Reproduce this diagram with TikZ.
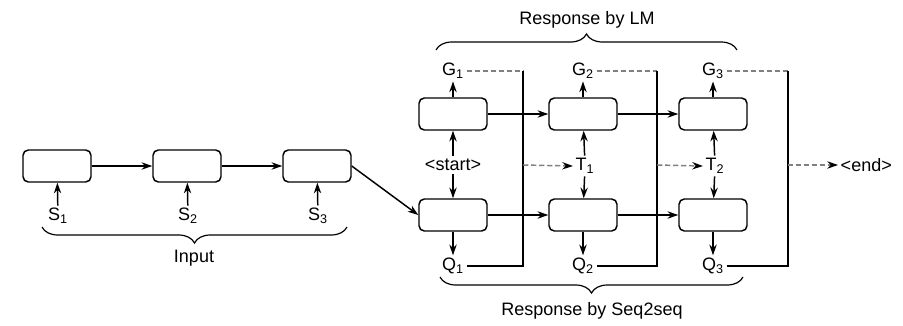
\documentclass[tikz,border=0pt]{standalone}
\usepackage{fontspec}
\setmainfont{Liberation Sans}
\usepackage{tikz}
\usetikzlibrary{arrows.meta,decorations.pathreplacing}

\tikzset{
  cell/.style={draw, line width=1.1pt, rounded corners=4pt, minimum width=51pt, minimum height=24pt},
  tok/.style={inner sep=1.5pt, font=\fontsize{13.5}{15}\selectfont},
  gdash/.style={gray, line width=1.1pt, dash pattern=on 4pt off 2pt},
  brc/.style={decorate, line width=0.9pt, decoration={brace, amplitude=12pt}},
}

\begin{document}
\begin{tikzpicture}[x=0.75pt,y=-0.75pt,line width=1.1pt,>={Stealth[length=8pt,width=5.5pt,black]}]
\useasboundingbox (0,0) rectangle (903,325);

% Input cells
\node[cell] (in1) at (57,166) {};
\node[cell] (in2) at (187,166) {};
\node[cell] (in3) at (317,166) {};
\node[tok] (s1) at (58,216) {S\textsubscript{1}};
\node[tok] (s2) at (188,216) {S\textsubscript{2}};
\node[tok] (s3) at (318,216) {S\textsubscript{3}};
\draw[->] (s1) -- (in1);
\draw[->] (s2) -- (in2);
\draw[->] (s3) -- (in3);
\draw[->] (in1) -- (in2);
\draw[->] (in2) -- (in3);

% LM cells (top) and Seq2seq cells (bottom)
\node[cell] (lm1) at (453,114) {};
\node[cell] (lm2) at (583,114) {};
\node[cell] (lm3) at (713,114) {};
\node[cell] (sq1) at (453,215) {};
\node[cell] (sq2) at (583,215) {};
\node[cell] (sq3) at (713,215) {};
\draw[->] (in3.east) -- (sq1.west);
\draw[->] (lm1) -- (lm2);
\draw[->] (lm2) -- (lm3);
\draw[->] (sq1) -- (sq2);
\draw[->] (sq2) -- (sq3);

% Tokens between the rows
\node[tok] (start) at (453,165) {<start>};
\node[tok] (t1) at (585,166) {T\textsubscript{1}};
\node[tok] (t2) at (715,166) {T\textsubscript{2}};
\node[tok, anchor=west] (endtok) at (838,165) {<end>};
\foreach \i/\t in {1/start,2/t1,3/t2} {
  \draw[->] (\t) -- (lm\i);
  \draw[->] (\t) -- (sq\i);
}

% Outputs
\node[tok] (g1) at (453,71) {G\textsubscript{1}};
\node[tok] (g2) at (583,71) {G\textsubscript{2}};
\node[tok] (g3) at (713,71) {G\textsubscript{3}};
\node[tok] (q1) at (453,266) {Q\textsubscript{1}};
\node[tok] (q2) at (583,266) {Q\textsubscript{2}};
\node[tok] (q3) at (713,266) {Q\textsubscript{3}};
\foreach \i in {1,2,3} {
  \draw[->] (lm\i) -- (g\i);
  \draw[->] (sq\i) -- (q\i);
}

% Selection lines
\coordinate (v1) at (523,165);
\coordinate (v2) at (657,165);
\coordinate (v3) at (788,165);
\foreach \i/\n in {1/t1,2/t2,3/endtok} {
  \draw[gdash] (g\i.east) -- (g\i.east -| v\i);
  \draw (g\i.east -| v\i) -- (q\i.east -| v\i) -- (q\i.east);
  \draw[gdash,->] (v\i) -- (\n.west);
}

% Braces
\draw[brc, decoration={mirror}] (42,227) -- (347,227);
\node[tok] (inlab) at (194,258) {Input};
\draw[brc] (436,50) -- (737,50);
\node[tok] (lmlab) at (587,20) {Response by LM};
\draw[brc, decoration={mirror}] (440,277) -- (743,277);
\node[tok] (sqlab) at (592,311) {Response by Seq2seq};

\end{tikzpicture}
\end{document}
